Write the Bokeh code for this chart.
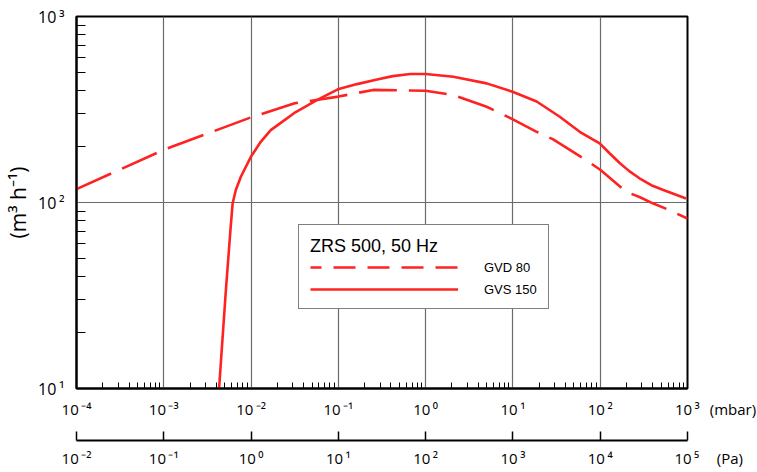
from bokeh.plotting import figure
from bokeh.models import (Range1d, LogAxis, FixedTicker, Legend, LegendItem,
                          LogScale)
from bokeh.embed import file_html
from bokeh.resources import INLINE

# ---- data (pressure in mbar, pumping speed in m3/h) ----
gvd80_p = [1e-4, 1e-3, 1e-2, 0.031, 0.1, 0.25, 1.0, 2.07, 5.0, 10, 18.7, 28.6,
           69, 100, 200, 282, 400, 620, 1000]
gvd80_q = [118, 192, 287, 341, 371, 403, 399, 378, 327, 280, 240, 219,
           169, 150, 114, 107, 99, 91, 82]

gvs150_p = [0.0043, 0.00515, 0.00588, 0.00615, 0.0067, 0.00766, 0.00995, 0.0129,
            0.0168, 0.0229, 0.031, 0.0574, 0.0986, 0.164, 0.278, 0.42, 0.667,
            1.0, 2.08, 5.0, 9.9, 18.7, 34.4, 58.2, 98.6, 128, 167, 217, 282,
            398, 520, 962]
gvs150_q = [10, 34, 77, 99, 117, 138, 176, 212,
            245, 272, 302, 356, 406, 433, 459, 478, 491,
            491, 474, 437, 394, 349, 289, 240, 208, 184, 163, 147, 135,
            123, 117, 105]

mbar_ticks = [1e-4, 1e-3, 1e-2, 1e-1, 1e0, 1e1, 1e2, 1e3]
mbar_labels = ["10\u2009⁻⁴", "10\u2009⁻³", "10\u2009⁻²", "10\u2009⁻¹",
               "10\u2009⁰", "10\u2009¹", "10\u2009²", "10\u2009³"]
pa_ticks = [1e-2, 1e-1, 1e0, 1e1, 1e2, 1e3, 1e4, 1e5]
pa_labels = ["10\u2009⁻²", "10\u2009⁻¹", "10\u2009⁰", "10\u2009¹",
             "10\u2009²", "10\u2009³", "10\u2009⁴", "10\u2009⁵"]
q_ticks = [10, 100, 1000]
q_labels = ["10\u2009¹", "10\u2009²", "10\u2009³"]

series_names = ["GVD 80", "GVS 150"]
legend_title = "ZRS 500, 50 Hz"
unit_x = "(mbar)"
unit_pa = "(Pa)"
unit_y = "(m³ h⁻¹)"

RED = "#ff2222"
TICK_FONT = "Open Sans"
LEG_FONT = "Liberation Sans"

mbar_minor = [k * 10.0 ** e for e in range(-4, 3) for k in range(2, 10)]
q_minor = [k * 10.0 ** e for e in (1, 2) for k in range(2, 10)]

# The unit names sit to the right of the last tick label; the leading blank
# run balances them so that the number stays centred on its tick.
EM, EN, FIG, THIN = "\u2003", "\u2002", "\u2007", "\u2009"
mbar_overrides = dict(zip(mbar_ticks, mbar_labels))
mbar_overrides[mbar_ticks[-1]] = (EM * 3 + FIG + THIN + mbar_labels[-1]
                                  + EN + THIN + unit_x)
pa_overrides = dict(zip(pa_ticks, pa_labels))
pa_overrides[pa_ticks[-1]] = (EM * 2 + EN + THIN * 2 + pa_labels[-1]
                              + EN * 2 + THIN + unit_pa)

p = figure(width=757, height=472, x_axis_type="log", y_axis_type="log",
           x_range=Range1d(1e-4, 1e3), y_range=Range1d(10, 1000),
           output_backend="svg", toolbar_location=None,
           min_border_left=75, min_border_right=70, min_border_top=16,
           min_border_bottom=84)
p.background_fill_color = "white"
p.border_fill_color = "white"
p.outline_line_color = "black"
p.outline_line_width = 2

for g in (p.xgrid[0], p.ygrid[0]):
    g.grid_line_color = "#6a6a6a"
    g.grid_line_width = 1.2


def style_axis(ax, standoff):
    ax.major_tick_out = 0
    ax.minor_tick_out = 0
    ax.axis_line_color = "black"
    ax.axis_line_width = 2
    ax.major_label_standoff = standoff
    ax.major_label_text_font = TICK_FONT
    ax.major_label_text_font_size = "15px"
    ax.major_label_text_color = "black"


# mbar axis
xa = p.xaxis[0]
xa.ticker = FixedTicker(ticks=mbar_ticks, minor_ticks=mbar_minor)
xa.major_label_overrides = mbar_overrides
style_axis(xa, 10)
xa.major_tick_in = 0
xa.minor_tick_in = 6
xa.minor_tick_line_color = "black"
xa.axis_label = " "
xa.axis_label_text_font_size = "10px"
xa.axis_label_standoff = 5

# flow axis
ya = p.yaxis[0]
ya.ticker = FixedTicker(ticks=q_ticks, minor_ticks=q_minor)
ya.major_label_overrides = dict(zip(q_ticks, q_labels))
style_axis(ya, 12)
ya.major_label_text_font_size = "16px"
ya.major_tick_in = 0
ya.minor_tick_in = 9
ya.minor_tick_line_color = "black"
ya.axis_label = unit_y
ya.axis_label_text_font = TICK_FONT
ya.axis_label_text_font_style = "normal"
ya.axis_label_text_font_size = "21px"
ya.axis_label_text_color = "black"
ya.axis_label_standoff = 3

# Pa axis
p.extra_x_ranges = {"pa": Range1d(1e-2, 1e5)}
p.extra_x_scales = {"pa": LogScale()}
pa = LogAxis(x_range_name="pa",
             ticker=FixedTicker(ticks=pa_ticks, minor_ticks=[]),
             major_label_overrides=pa_overrides)
style_axis(pa, 7)
pa.major_tick_in = 9
pa.minor_tick_in = 0
pa.major_tick_line_color = "black"
pa.major_tick_line_width = 1.5
p.add_layout(pa, "below")

# curves
r1 = p.line(gvd80_p, gvd80_q, line_color=RED, line_width=2.6, line_dash="38 12")
r2 = p.line(gvs150_p, gvs150_q, line_color=RED, line_width=2.6)
# hidden twin of the dashed curve, used only for the key's shorter dashes
r1_key = p.line(gvd80_p, gvd80_q, line_color=RED, line_width=2.6,
                line_dash="22 12", line_dash_offset=11, visible=False)

legend = Legend(items=[LegendItem(label=series_names[0], renderers=[r1_key]),
                       LegendItem(label=series_names[1], renderers=[r2])],
                location=(222, 79), title=legend_title,
                title_text_font=LEG_FONT, title_text_font_size="18px",
                title_text_font_style="normal", title_text_color="black",
                title_text_line_height=1.8, title_standoff=2,
                label_text_font=LEG_FONT, label_text_font_size="13px",
                label_text_color="black",
                glyph_width=148, glyph_height=16, label_height=16,
                label_standoff=26, spacing=6, padding=11, margin=0,
                inactive_fill_alpha=0,
                border_line_color="black", border_line_width=1.5,
                background_fill_color="white", background_fill_alpha=1)
p.add_layout(legend)

open("out.html", "w").write(file_html(p, INLINE))
